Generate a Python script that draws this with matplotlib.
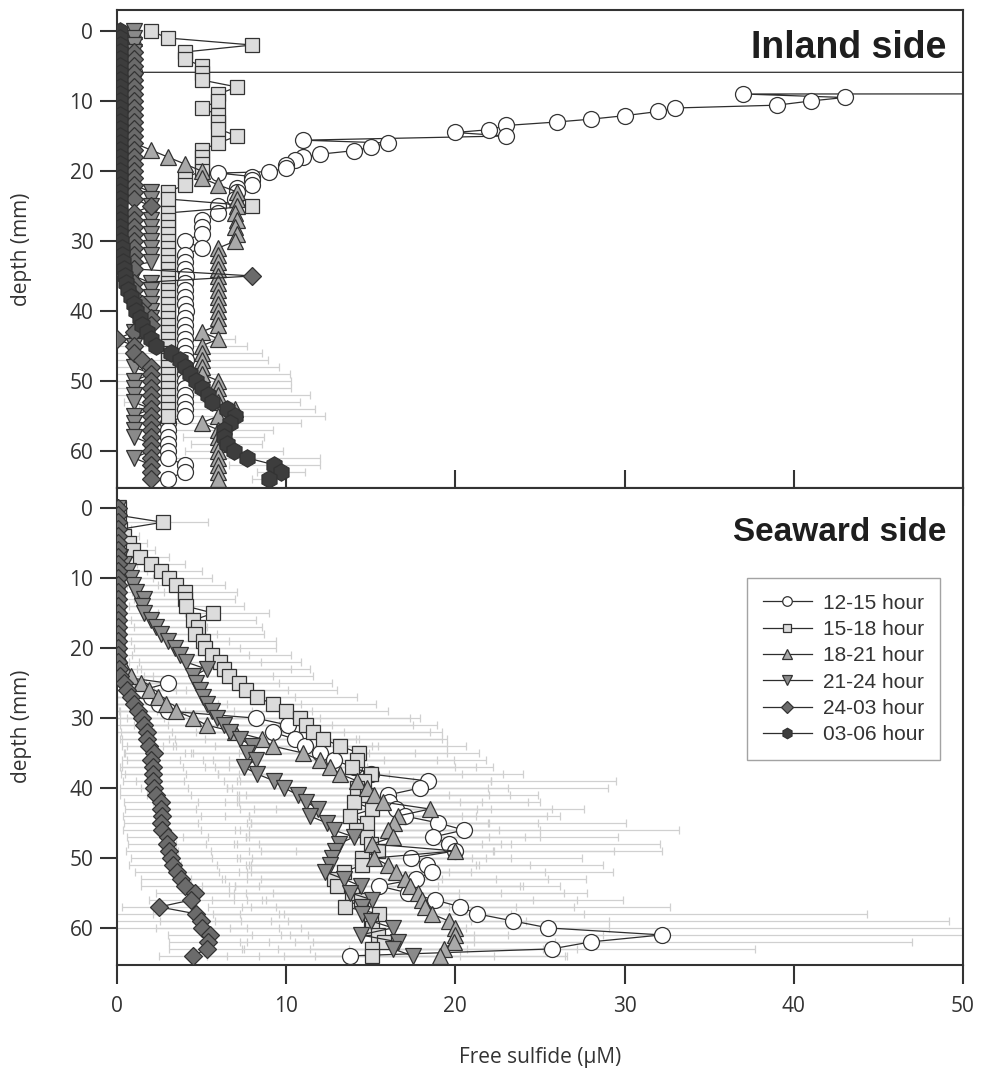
import numpy as np
import matplotlib
matplotlib.use("Agg")
import matplotlib.pyplot as plt
from matplotlib.lines import Line2D

plt.rcParams['font.family'] = ['Open Sans', 'DejaVu Sans']

NA = np.nan

# -------------------- Data --------------------
labels = ['12-15 hour', '15-18 hour', '18-21 hour', '21-24 hour', '24-03 hour', '03-06 hour']
depth = np.arange(0, 65)  # depth grid, mm

# Inland side (top panel)
inland_1215_depth = [5.9, 5.9, 8.7, 9.0, 9.5, 10.0, 10.6, 11.0, 11.5, 12.1, 12.6, 13.0, 13.5, 14.1,
                     14.5, 15.0, 15.6, 16.0, 16.6, 17.1, 17.6, 18.0, 18.5, 19.1, 19.6, 20.1, 20.3,
                     20.8, 21.3, 22.0, 22.5, 23.0, 24.0, 25.0, 26.0, 27.0, 28.0, 29.0, 30.0, 31.0,
                     32.0, 33.0, 34.0, 35.0, 36.0, 37.0, 38.0, 39.0, 40.0, 41.0, 42.0, 43.0, 44.0,
                     45.0, 46.0, 47.0, 48.0, 49.0, 50.0, 51.0, 52.0, 53.0, 54.0, 55.0, 56.0, 57.0,
                     58.0, 59.0, 60.0, 61.0, 62.0, 63.0, 64.0]
inland_1215 = [1.0, 400, 400, 37, 43, 41, 39, 33, 32, 30, 28, 26, 23, 22,
               20, 23, 11, 16, 15, 14, 12, 11, 10.5, 10, 10, 9, 6,
               8, 8, 8, 7.1, 7.1, 7.0, 6.0, 6.0, 5.0, 5.0, 5.0, 4.0, 5.0,
               4.0, 4.0, 4.0, 4.1, 4.0, 4.0, 4.0, 4.0, 4.1, 4.0, 4.0, 4.0, 4.0,
               4.0, 4.0, 4.1, 4.0, 4.0, 4.0, 4.0, 4.0, 4.0, 4.0, 4.0, 3.0, 3.0,
               3.0, 3.0, 3.0, 3.0, 4.0, 4.0, 3.0]
inland_1518 = [2.0, 3.0, 8.0, 4.0, 4.0, 5.0, 5.0, 5.0, 7.1, 6.0,
               6.0, 5.0, 6.0, 6.0, 6.0, 7.1, 6.0, 5.0, 5.0, 5.0,
               5.0, 4.0, 4.0, 3.0, 3.0, 8.0, 3.0, 3.0, 3.0, 3.0,
               3.0, 3.0, 3.0, 3.0, 3.0, 3.0, 3.0, 3.0, 3.0, 3.0,
               3.0, 3.0, 3.0, 3.0, 3.0, 3.0, 3.0, 3.0, 3.0, 3.0,
               3.0, 3.0, 3.0, 3.0, 3.0, 3.0, NA, NA, NA, NA,
               NA, NA, NA, NA, NA]
inland_1821 = [1.0, 1.0, 1.0, 1.0, 1.0, 1.0, 1.0, 1.0, 1.0, 1.0,
               1.0, 1.0, 1.0, 1.0, 1.0, 1.0, 1.0, 2.0, 3.0, 4.0,
               5.0, 5.0, 6.0, 7.1, 7.1, 7.1, 7.0, 7.1, 7.0, 7.1,
               7.0, 6.0, 6.0, 6.0, 6.0, 6.0, 6.0, 6.0, 6.0, 6.0,
               6.0, 6.0, 6.0, 5.0, 6.0, 5.0, 5.0, 5.0, 5.0, 5.0,
               6.0, 6.0, 6.0, 6.0, 7.0, 6.0, 5.0, 6.0, 6.0, 6.0,
               6.0, 6.0, 6.0, 6.0, 6.0]
inland_2124 = [1.0, 1.0, 1.0, 1.0, 1.0, 1.0, 1.0, 1.0, 1.0, 1.0,
               1.0, 1.0, 1.0, 1.0, 1.0, 1.0, 1.0, 1.0, 1.0, 1.0,
               1.0, 1.0, 1.0, 2.0, 2.0, 2.0, 2.0, 2.0, 2.0, 2.0,
               2.0, 2.0, 2.0, 2.0, 0.0, 1.0, 2.0, 2.0, 2.0, 2.0,
               2.0, 2.0, 1.5, 1.0, 1.0, 1.0, 1.0, 1.0, 1.0, 2.0,
               1.0, 1.0, 1.0, 1.0, 2.0, 1.0, 1.0, 1.0, 1.0, 2.0,
               2.0, 1.0, 2.0, 2.0, 2.0]
inland_2403 = [NA, NA, NA, 1.0, 1.0, 1.0, 1.0, 1.0, 1.0, 1.0,
               1.0, 1.0, 1.0, 1.0, 1.0, 1.0, 1.0, 1.0, 1.0, 1.0,
               1.0, 1.0, 1.0, 1.0, 1.0, 2.0, 1.0, 1.0, 1.0, 1.0,
               1.0, 1.0, 1.0, 1.0, 1.0, 8.0, 1.0, 1.0, 1.0, 1.5,
               1.5, 2.0, 2.0, 1.0, 0.0, 1.0, 1.0, 1.5, 2.0, 2.0,
               2.0, 2.0, 2.0, 2.0, 2.0, 2.0, 2.0, 2.0, 2.0, 2.0,
               2.0, 2.0, 2.0, 2.0, 2.0]
inland_0306 = [0.2, 0.2, 0.2, 0.2, 0.2, 0.2, 0.2, 0.2, 0.2, 0.2,
               0.2, 0.2, 0.2, 0.2, 0.2, 0.2, 0.2, 0.2, 0.2, 0.2,
               0.2, 0.2, 0.2, 0.2, 0.2, 0.2, 0.2, 0.2, 0.2, 0.2,
               0.25, 0.3, 0.3, 0.35, 0.4, 0.45, 0.55, 0.65, 0.8, 1.0,
               1.15, 1.35, 1.5, 1.75, 2.0, 2.3, 3.2, 3.7, 4.0, 4.3,
               4.7, 5.0, 5.4, 5.6, 6.5, 7.0, 6.7, 6.3, 6.3, 6.5,
               6.9, 7.7, 9.3, 9.7, 9.0]
inland_0306_err = [0] * 44 + [5.0, 5.4, 5.4, 5.2, 5.6, 5.9, 5.6, 5.3, 6.0, 5.2, 5.2,
                              5.3, 4.2, 2.9, 2.4, 2.1, 2.9, 4.3, 2.7, 1.4, 1.0]

# Seaward side (bottom panel)
sea_1215 = [0.0] * 25 + [3.0, 1.5, 2.0, 2.5, 3.0, 8.2, 10.1, 9.2, 10.5, 11.1,
                         12.0, 12.8, 14.0, 15.0, 18.4, 17.9, 16.0, 16.1, 16.5, 17.0,
                         19.0, 20.5, 18.7, 19.6, 20.0, 17.4, 18.3, 18.6, 17.7, 15.5,
                         17.2, 18.8, 20.3, 21.3, 23.4, 25.5, 32.2, 28.0, 25.7, 13.8]
sea_1215_err = [0.0] * 25 + [2.0, 2.0, 3.0, 4.0, 5.0, 9.7, 8.8, 10.0, 9.0, 8.4,
                             7.5, 7.1, 8.2, 9.0, 11.1, 11.1, 8.9, 8.9, 9.2, 9.2,
                             11.1, 12.7, 10.9, 12.5, 12.2, 10.1, 10.4, 10.7, 10.0, 8.5,
                             10.6, 11.1, 12.4, 23.0, 25.8, 27.0, 22.0, 19.0, 12.0, 8.5]
sea_1518 = [0.1, 0.1, 2.7, 0.2, 0.4, 0.7, 0.95, 1.35, 2.0, 2.6,
            3.1, 3.5, 4.0, 4.0, 4.1, 5.7, 4.5, 4.8, 4.6, 5.1,
            5.2, 5.6, 6.1, 6.3, 6.6, 7.2, 7.6, 8.3, 9.2, 10.0,
            10.8, 11.2, 11.6, 12.2, 13.2, 14.3, 14.2, 13.9, 15.0, 14.6,
            14.2, 14.8, 14.0, 15.1, 13.8, 14.8, 14.1, 14.8, 15.0, 15.4,
            14.5, 14.5, 13.4, 12.8, 13.0, 13.9, 14.4, 13.5, 15.5, 15.0,
            15.1, 15.4, 15.8, 15.1, 15.1]
sea_1518_err = [0.3, 0.3, 2.7, 0.6, 0.9, 1.1, 1.3, 1.7, 2.0, 2.4,
                2.5, 2.9, 3.1, 3.0, 3.4, 3.3, 3.7, 3.8, 4.1, 4.3,
                4.2, 4.7, 4.8, 5.1, 5.0, 5.5, 5.4, 5.9, 6.1, 6.0,
                6.5, 6.3, 6.9, 7.0, 7.4, 7.1, 7.6, 7.3, 7.8, 7.5,
                7.7, 7.2, 7.6, 7.0, 7.4, 7.1, 6.8, 7.2, 6.6, 6.9,
                6.5, 6.7, 6.2, 6.4, 6.0, 6.3, 5.8, 6.1, 5.6, 5.9,
                5.5, 5.7, 5.3, 5.6, 5.2]
sea_1821 = [0.05] * 21 + [0.1, 0.2, 0.5, 0.8, 1.4, 1.9, 2.4, 2.9, 3.5, 4.5,
                          5.3, 7.0, 8.6, 9.2, 11.0, 12.0, 12.6, 13.2, 14.2, 14.8,
                          15.2, 15.7, 18.5, 16.6, 16.4, 16.0, 16.3, 15.1, 20.0, 15.2,
                          16.0, 16.5, 17.0, 17.3, 17.8, 18.0, 18.2, 18.6, 19.6, 20.0,
                          20.0, 19.9, 19.3, 19.1]
sea_1821_err = [0.2] * 21 + [0.3, 0.5, 0.9, 1.3, 1.8, 2.2, 2.6, 3.1, 3.4, 3.9,
                             4.3, 4.8, 5.5, 5.9, 6.6, 6.9, 7.4, 7.2, 7.9, 8.3,
                             8.0, 8.6, 9.1, 8.8, 8.5, 9.0, 8.7, 8.2, 9.4, 8.1,
                             8.4, 8.8, 8.5, 8.9, 8.6, 9.2, 8.8, 9.0, 9.5, 9.1,
                             8.7, 8.3, 7.9, 7.4]
sea_2124 = [0.05, 0.05, 0.05, 0.05, 0.05, 0.05, 0.05,
            0.2, 0.4, 0.65, 0.8, 0.95, 1.1, 1.6, 1.5, 1.6, 2.0,
            2.3, 2.6, 3.0, 3.4, 3.7, 4.1, 5.3, 4.5, 4.7, 4.9,
            5.1, 5.3, 5.6, 5.9, 6.3, 6.7, 7.3, 8.0, 7.7, 8.2,
            7.5, 8.3, 9.3, 9.9, 10.7, 11.2, 11.9, 11.4, 12.4, 12.8,
            14.0, 13.1, 12.9, 12.7, 12.6, 12.3, 13.4, 14.4, 13.8, 15.1,
            14.5, 14.5, 15.0, 16.3, 14.4, 16.6, 16.3, 17.5]
sea_2124_err = [0.2, 0.2, 0.2, 0.2, 0.3, 0.3, 0.4,
                0.6, 0.8, 1.1, 1.3, 1.5, 1.7, 2.1, 2.2, 2.4, 2.8,
                3.0, 3.3, 3.6, 3.9, 4.1, 4.4, 5.0, 4.7, 4.9, 5.2,
                5.4, 5.6, 5.9, 6.1, 6.4, 6.7, 7.0, 7.4, 7.2, 7.6,
                7.3, 7.8, 8.2, 8.5, 8.9, 9.1, 9.4, 9.0, 9.6, 9.8,
                10.1, 9.6, 9.3, 9.1, 8.8, 8.6, 9.0, 9.4, 8.9, 9.5,
                9.1, 8.8, 9.2, 9.6, 8.7, 9.3, 8.9, 9.1]
sea_2403 = [0.05] * 23 + [0.1, 0.2, 0.4, 0.6, 0.8, 1.0, 1.25, 1.45, 1.6, 1.75,
                          1.8, 1.9, 2.2, 2.0, 2.1, 2.15, 2.15, 2.2, 2.3, 2.6,
                          2.6, 2.65, 2.6, 2.65, 3.0, 2.95, 3.05, 3.2, 3.3, 3.55,
                          3.8, 4.0, 4.6, 4.4, 2.5, 4.7, 4.95, 5.0, 5.5, 5.4,
                          5.3, 4.5]
sea_2403_err = [0.1] * 23 + [0.2, 0.3, 0.5, 0.7, 0.8, 1.0, 1.1, 1.3, 1.4, 1.5,
                             1.6, 1.6, 1.8, 1.7, 1.8, 1.9, 1.8, 2.0, 2.1, 2.2,
                             2.1, 2.3, 2.2, 2.3, 2.4, 2.3, 2.5, 2.4, 2.6, 2.5,
                             2.4, 2.6, 2.3, 2.5, 2.2, 2.6, 2.4, 2.7, 2.5, 2.3,
                             2.2, 2.0]

# -------------------- Styles --------------------
styles = {
    '12-15 hour': dict(marker='o', mfc='white', ms=11.5),
    '15-18 hour': dict(marker='s', mfc='#dcdcdc', ms=10),
    '18-21 hour': dict(marker='^', mfc='#a9a9a9', ms=11.5),
    '21-24 hour': dict(marker='v', mfc='#8a8a8a', ms=11.5),
    '24-03 hour': dict(marker='D', mfc='#6b6b6b', ms=9.5),
    '03-06 hour': dict(marker='h', mfc='#3d3d3d', ms=12.5),
}
LINE = '#2e2e2e'
EDGE = '#333333'
ERR = '#d0d0d0'
TXT = '#333333'


def draw(ax, x, y, label, xerr=None, z=3):
    x = np.asarray(x, dtype=float)
    y = np.asarray(y, dtype=float)
    if xerr is not None:
        xerr = np.asarray(xerr, dtype=float)
        ok = ~np.isnan(x) & (xerr > 0)
        ax.errorbar(x[ok], y[ok], xerr=xerr[ok], fmt='none', ecolor=ERR,
                    elinewidth=0.9, capsize=3, capthick=0.9, zorder=1)
    ax.plot(x, y, color=LINE, lw=0.9, mec=EDGE, mew=0.9, zorder=z, **styles[label])


fig = plt.figure(figsize=(9.83, 10.77), dpi=100)
ax1 = fig.add_axes([0.119, 0.5469, 0.8606, 0.4438])
ax2 = fig.add_axes([0.119, 0.104, 0.8606, 0.4429])

# top panel
draw(ax1, inland_1215, inland_1215_depth, '12-15 hour', z=3)
draw(ax1, inland_1518, depth, '15-18 hour', z=4)
draw(ax1, inland_1821, depth, '18-21 hour', z=5)
draw(ax1, inland_2124, depth, '21-24 hour', z=6)
draw(ax1, inland_2403, depth, '24-03 hour', z=7)
draw(ax1, inland_0306, depth, '03-06 hour', xerr=inland_0306_err, z=8)

# bottom panel
draw(ax2, sea_1215, depth, '12-15 hour', xerr=sea_1215_err, z=3)
draw(ax2, sea_1518, depth, '15-18 hour', xerr=sea_1518_err, z=4)
draw(ax2, sea_1821, depth, '18-21 hour', xerr=sea_1821_err, z=5)
draw(ax2, sea_2124, depth, '21-24 hour', xerr=sea_2124_err, z=6)
draw(ax2, sea_2403, depth, '24-03 hour', xerr=sea_2403_err, z=7)

ax1.set_ylim(65.3, -3.0)
ax2.set_ylim(65.3, -2.9)

for ax in (ax1, ax2):
    ax.set_xlim(0, 50)
    ax.set_xticks([0, 10, 20, 30, 40, 50])
    ax.set_yticks([0, 10, 20, 30, 40, 50, 60])
    for sp in ax.spines.values():
        sp.set_linewidth(1.5)
        sp.set_color(EDGE)
    ax.tick_params(axis='y', direction='out', length=12, width=1.5, color=EDGE,
                   labelsize=15, labelcolor=TXT, pad=5)
    ax.set_ylabel('depth (mm)', fontsize=15, color=TXT)
    ax.yaxis.set_label_coords(-0.100, 0.5)

ax1.tick_params(axis='x', direction='inout', length=26, width=1.5, color=EDGE,
                labelbottom=False)
ax2.tick_params(axis='x', direction='out', length=14, width=1.5, color=EDGE,
                labelsize=15, labelcolor=TXT, pad=8)
ax2.set_xlabel('Free sulfide (μM)', fontsize=15, color=TXT)
ax2.xaxis.set_label_coords(0.5, -0.172)

ax1.text(0.981, 0.900, 'Inland side', transform=ax1.transAxes, ha='right', va='baseline',
         fontsize=27, fontweight='bold', family=['Liberation Sans', 'DejaVu Sans'], color='#1e1e1e')
ax2.text(0.981, 0.889, 'Seaward side', transform=ax2.transAxes, ha='right', va='baseline',
         fontsize=24, fontweight='bold', family=['Liberation Sans', 'DejaVu Sans'], color='#1e1e1e')

handles = [Line2D([], [], color=LINE, lw=0.9, mec=EDGE, mew=0.9, **styles[l]) for l in labels]
leg = ax2.legend(handles, labels, loc='upper right', bbox_to_anchor=(0.973, 0.811),
                 borderaxespad=0.0,
                 frameon=True, fancybox=False, edgecolor='#8c8c8c', markerscale=0.6,
                 handlelength=2.35, handletextpad=0.55, labelspacing=0.35, borderpad=0.75,
                 prop={'family': ['Liberation Sans', 'DejaVu Sans'], 'size': 15})
leg.get_frame().set_linewidth(1.0)
for t in leg.get_texts():
    t.set_color(TXT)
leg.set_zorder(20)

fig.savefig('out.png', dpi=100)
